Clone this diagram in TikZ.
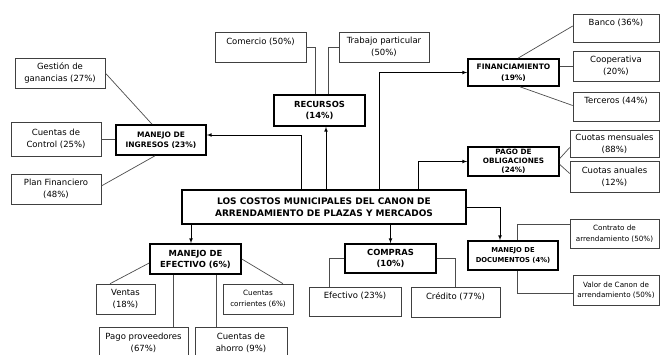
\documentclass[tikz,border=0pt]{standalone}
\usepackage{fontspec}
\setmainfont{DejaVu Sans}
\usetikzlibrary{arrows}

\tikzset{
  leaf/.style={draw=black!75, line width=.6pt, align=center, inner sep=1pt, font=\fontsize{8.5}{12}\selectfont},
  smallleaf/.style={leaf, font=\fontsize{7.2}{10.5}\selectfont},
  head/.style={draw, line width=1.6pt, align=center, inner sep=1pt, font=\fontsize{7.5}{10.5}\selectfont\bfseries},
  bighead/.style={head, font=\fontsize{8.4}{11}\selectfont\bfseries},
  link/.style={black!70, line width=.7pt},
  arr/.style={-latex, line width=.7pt},
}

\begin{document}
\begin{tikzpicture}[x=1pt, y=-1pt]

\useasboundingbox (0,0) rectangle (661,354);
\clip (0,0) rectangle (661,354);

\node[draw, line width=2.2pt, align=center, minimum width=284, minimum height=34, font=\fontsize{9}{12.5}\selectfont\bfseries] (costos) at (324,207) {LOS COSTOS MUNICIPALES DEL CANON DE\\ARRENDAMIENTO DE PLAZAS Y MERCADOS};

\node[head, minimum width=90, minimum height=30] (ingresos) at (161,140) {MANEJO DE\\INGRESOS (23\%)};
\node[bighead, minimum width=91, minimum height=31] (recursos) at (319.5,110.5) {RECURSOS\\(14\%)};
\node[head, minimum width=91, minimum height=27] (financ) at (513.5,72.5) {FINANCIAMIENTO\\(19\%)};
\node[head, minimum width=91, minimum height=29, font=\fontsize{7.3}{8.8}\selectfont\bfseries] (pago) at (513.5,161.5) {PAGO DE\\OBLIGACIONES\\(24\%)};
\node[head, minimum width=90, minimum height=29, font=\fontsize{6.8}{9.5}\selectfont\bfseries] (documentos) at (513,255.5) {MANEJO DE\\DOCUMENTOS (4\%)};
\node[bighead, minimum width=91, minimum height=29] (compras) at (390.5,258.5) {COMPRAS\\(10\%)};
\node[bighead, minimum width=91, minimum height=30] (efectivo) at (195.5,259) {MANEJO DE\\EFECTIVO (6\%)};

\node[leaf, minimum width=90, minimum height=30] (ganancias) at (60,73) {Gestión de\\ganancias (27\%)};
\node[leaf, minimum width=90, minimum height=34] (control) at (56,139) {Cuentas de\\Control (25\%)};
\node[leaf, minimum width=90, minimum height=30] (plan) at (56,189) {Plan Financiero\\(48\%)};
\node[leaf, minimum width=91, minimum height=30] (comercio) at (260.5,47) {Comercio (50\%)\\\mbox{}};
\node[leaf, minimum width=90, minimum height=30] (trabajo) at (384,47) {Trabajo particular\\(50\%)};
\node[leaf, minimum width=86, minimum height=28] (banco) at (616,28) {Banco (36\%)\\\mbox{}};
\node[leaf, minimum width=86, minimum height=30] (coop) at (616,66) {Cooperativa\\(20\%)};
\node[leaf, minimum width=86, minimum height=29] (terceros) at (616,106.5) {Terceros (44\%)\\\mbox{}};
\node[leaf, minimum width=89, minimum height=27] (mensuales) at (614.5,143.5) {Cuotas mensuales\\(88\%)};
\node[leaf, minimum width=89, minimum height=31] (anuales) at (614.5,176.5) {Cuotas anuales\\(12\%)};
\node[smallleaf, minimum width=89, minimum height=29] (contrato) at (614.5,233.5) {Contrato de\\arrendamiento (50\%)};
\node[smallleaf, minimum width=86, minimum height=30] (valor) at (616,290) {Valor de Canon de\\arrendamiento (50\%)};
\node[leaf, minimum width=92, minimum height=29] (efe) at (355,301.5) {Efectivo (23\%)\\\mbox{}};
\node[leaf, minimum width=89, minimum height=30] (credito) at (455.5,302) {Crédito (77\%)\\\mbox{}};
\node[leaf, minimum width=59, minimum height=30] (ventas) at (125.5,299) {Ventas\\(18\%)};
\node[smallleaf, minimum width=70, minimum height=30] (corrientes) at (258,299) {Cuentas\\corrientes (6\%)};
\node[leaf, minimum width=89, minimum height=31] (proveedores) at (143.5,342.5) {Pago proveedores\\(67\%)};
\node[leaf, minimum width=92, minimum height=31] (ahorro) at (241,342.5) {Cuentas de\\ahorro (9\%)};

\draw[arr] (costos.north -| 301,0) |- ([yshift=5pt]ingresos.east);
\draw[arr] (costos.north -| 326,0) -- (326,0 |- recursos.south);
\draw[arr] (costos.north -| 379,0) |- (financ.west);
\draw[arr] (costos.north -| 418,0) |- (pago.west);
\draw[arr] (costos.east) -| (500,0 |- documentos.north);
\draw[arr] (costos.south -| compras.north) -- (compras.north);
\draw[arr] (costos.south -| 191,0) -- (191,0 |- efectivo.north);

\draw[link] (ganancias.east) -- (152,0 |- ingresos.north);
\draw[link] (control.east) -- (control.east -| ingresos.west);
\draw[link] ([yshift=3pt]plan.east) -- (155,0 |- ingresos.south);
\draw[link] (comercio.east) -| (315,0 |- recursos.north);
\draw[link] (trabajo.west) -| (328,0 |- recursos.north);
\draw[link] (518,0 |- financ.north) -- ([yshift=2pt]banco.west);
\draw[link] (financ.east |- coop.west) -- (coop.west);
\draw[link] (520,0 |- financ.south) -- ([yshift=1pt]terceros.west);
\draw[link] ([yshift=3pt]pago.east) -- ([yshift=-4pt]mensuales.west);
\draw[link] ([yshift=-3pt]pago.east) -- ([yshift=3pt]anuales.west);
\draw[link] (517,0 |- documentos.north) |- (contrato.west |- 0,224);
\draw[link] (517,0 |- documentos.south) |- (valor.west |- 0,293);
\draw[link] (compras.west) -| (329,0 |- efe.north);
\draw[link] (compras.east) -| (credito.north);
\draw[link] ([yshift=-4pt]efectivo.west) -- (110,0 |- ventas.north);
\draw[link] (efectivo.east) -- (283,0 |- corrientes.north);
\draw[link] (173,0 |- efectivo.south) -- (173,0 |- proveedores.north);
\draw[link] (216,0 |- efectivo.south) -- (216,0 |- ahorro.north);

\end{tikzpicture}
\end{document}
